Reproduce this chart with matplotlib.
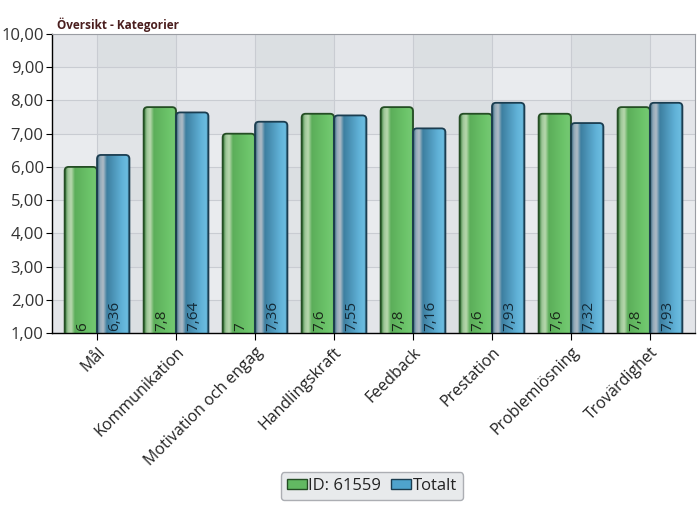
import numpy as np
import matplotlib
matplotlib.use("Agg")
import matplotlib.pyplot as plt
from matplotlib.patches import FancyBboxPatch, Patch
from matplotlib.colors import LinearSegmentedColormap

kategorier = ["Mål", "Kommunikation", "Motivation och engag", "Handlingskraft",
              "Feedback", "Prestation", "Problemlösning", "Trovärdighet"]
id_värden = [6, 7.8, 7, 7.6, 7.8, 7.6, 7.6, 7.8]
totalt_värden = [6.36, 7.64, 7.36, 7.55, 7.16, 7.93, 7.32, 7.93]
serienamn = ["ID: 61559", "Totalt"]
y_ticks = list(range(1, 11))

plt.rcParams['font.family'] = ['Open Sans', 'DejaVu Sans']

fig = plt.figure(figsize=(7, 5.05), dpi=100)
ax = fig.add_axes([0.0743, 0.3406, 0.9186, 0.592])

n = len(kategorier)
x = np.arange(n)
bredd = 0.41
ax.set_xlim(-0.57, n - 0.43)
ax.set_ylim(1, 10)

# bakgrund: rutmönster med svaga band i båda led
ax.set_facecolor("#e9ebee")
for i in range(-1, n):
    if i % 2 == 0:
        ax.axvspan(i, i + 1, color="#9aa0aa", alpha=0.09, zorder=0, lw=0)
for r in range(1, 10):
    if r % 2 == 1:
        ax.axhspan(r, r + 1, color="#9aa0aa", alpha=0.07, zorder=0, lw=0)
ax.grid(True, color="#c9ccd2", lw=0.8, zorder=0.5)
ax.set_axisbelow(True)

# gradienter för cylindereffekt
grön_cmap = LinearSegmentedColormap.from_list("g", [
    (0.0, "#3f7f3f"), (0.08, "#9cc596"), (0.18, "#b8d8ae"), (0.3, "#5cae5a"),
    (0.75, "#6cc46a"), (0.93, "#74c872"), (1.0, "#3f8a3f")])
blå_cmap = LinearSegmentedColormap.from_list("b", [
    (0.0, "#2c5c72"), (0.08, "#8fa8b8"), (0.18, "#b0bcc6"), (0.3, "#3d7fa0"),
    (0.75, "#5fb0d6"), (0.93, "#6cbce0"), (1.0, "#2f6f8e")])

px_x = ax.get_position().width * 700 / (n - 0.43 + 0.57)
px_y = ax.get_position().height * 505 / 9
aspekt = px_x / px_y


def rita_stapel(x0, värde, cmap, kant):
    botten = 0.85
    ruta = FancyBboxPatch((x0, botten), bredd, värde - botten,
                          boxstyle="round,pad=0,rounding_size=0.05",
                          mutation_aspect=aspekt, facecolor="none",
                          edgecolor=kant, lw=1.3, zorder=3)
    ax.add_patch(ruta)
    grad = np.linspace(0, 1, 64).reshape(1, -1)
    bild = ax.imshow(grad, cmap=cmap, extent=(x0, x0 + bredd, botten, värde),
                     aspect="auto", zorder=2, interpolation="bilinear")
    bild.set_clip_path(ruta)


def fmt(v):
    s = f"{v:g}"
    return s.replace(".", ",")


for i in range(n):
    rita_stapel(x[i] - bredd, id_värden[i], grön_cmap, "#244d24")
    rita_stapel(x[i], totalt_värden[i], blå_cmap, "#1b3d50")
    ax.text(x[i] - bredd / 2 + 0.02, 1.07, fmt(id_värden[i]), rotation=90,
            ha="center", va="bottom", fontsize=11, color="#1a2a1a", zorder=4)
    ax.text(x[i] + bredd / 2 + 0.02, 1.07, fmt(totalt_värden[i]), rotation=90,
            ha="center", va="bottom", fontsize=11, color="#132a38", zorder=4)

ax.set_xticks(x)
ax.set_xticklabels(kategorier, rotation=45, ha="right", rotation_mode="anchor",
                   fontsize=11.5, color="#222222")
ax.set_yticks(y_ticks)
ax.set_yticklabels([f"{v:.2f}".replace(".", ",") for v in y_ticks],
                   fontsize=12, color="#333333")
ax.tick_params(axis="x", length=5, color="black", pad=3)
ax.tick_params(axis="y", length=4, color="black", pad=2)
for s in ["top", "right"]:
    ax.spines[s].set_color("#9a9da3")
    ax.spines[s].set_linewidth(0.8)
for s in ["left", "bottom"]:
    ax.spines[s].set_color("black")
    ax.spines[s].set_linewidth(1.0)

fig.text(57 / 700, 1 - 25 / 505, "Översikt - Kategorier", fontsize=8.5,
         fontweight="bold", color="#4a1e1e", va="center", ha="left")

# förklaring
handtag = [Patch(facecolor="#62b962", edgecolor="#244d24", label=serienamn[0]),
           Patch(facecolor="#4fa3cc", edgecolor="#1b3d50", label=serienamn[1])]
leg = fig.legend(handles=handtag, loc="center", bbox_to_anchor=(372 / 700, 1 - 486 / 505),
                 ncol=2, fontsize=12, frameon=True, fancybox=True,
                 handlelength=1.2, handleheight=0.5, handletextpad=0.1,
                 columnspacing=0.6, borderpad=0.35)
leg.get_frame().set_facecolor("#e3e5e8")
leg.get_frame().set_edgecolor("#9a9da3")
for t in leg.get_texts():
    t.set_color("#222222")

fig.savefig("out.png", dpi=100)
